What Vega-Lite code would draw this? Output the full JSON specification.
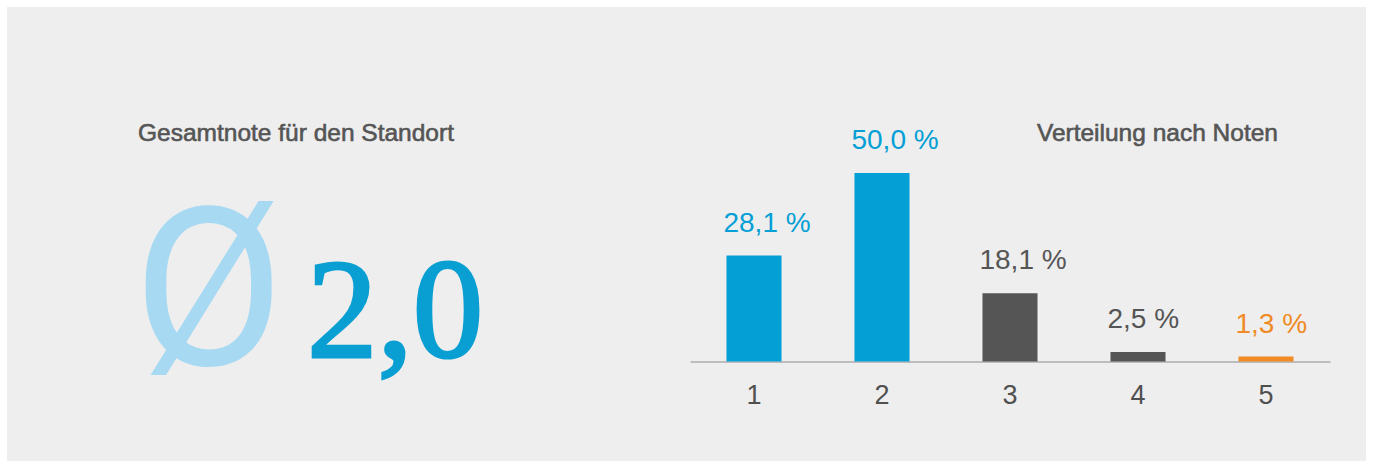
{
  "$schema": "https://vega.github.io/schema/vega-lite/v6.json",
  "width": 1373,
  "height": 468,
  "autosize": {"type": "fit", "contains": "padding"},
  "padding": 0,
  "background": "#ffffff",
  "view": {"fill": "#eeeeee", "stroke": "#ffffff", "strokeWidth": 14},
  "datasets": {
    "noten": [
      {"Note": "1", "Anteil": 28.1, "Label": "28,1 %"},
      {"Note": "2", "Anteil": 50.0, "Label": "50,0 %"},
      {"Note": "3", "Anteil": 18.1, "Label": "18,1 %"},
      {"Note": "4", "Anteil": 2.5, "Label": "2,5 %"},
      {"Note": "5", "Anteil": 1.3, "Label": "1,3 %"}
    ],
    "gesamt": [
      {"Titel": "Gesamtnote für den Standort", "Symbol": "Ø", "Wert": "2,0", "Verteilung": "Verteilung nach Noten"}
    ]
  },
  "layer": [
    {
      "data": {"name": "noten"},
      "mark": {"type": "bar"},
      "encoding": {
        "x": {
          "field": "Note", "type": "nominal", "sort": null,
          "scale": {"range": [690, 1330], "paddingInner": 0.57, "paddingOuter": 0.285},
          "axis": {
            "orient": "bottom", "offset": -106.5, "title": null, "labelAngle": 0,
            "domainColor": "#bdbdbd", "domainWidth": 2, "ticks": false,
            "labelFont": "Liberation Sans", "labelFontSize": 27, "labelColor": "#505050",
            "labelPadding": 21
          }
        },
        "y": {
          "field": "Anteil", "type": "quantitative",
          "scale": {"domain": [0, 50], "range": [361.5, 173], "nice": false},
          "axis": null
        },
        "color": {
          "field": "Note", "type": "nominal",
          "scale": {"domain": ["1", "2", "3", "4", "5"], "range": ["#049fd5", "#049fd5", "#555555", "#555555", "#f08a24"]},
          "legend": null
        }
      }
    },
    {
      "data": {"name": "noten"},
      "mark": {"type": "text", "align": "left", "baseline": "alphabetic", "dx": -3, "dy": -24, "font": "Liberation Sans", "fontSize": 28},
      "encoding": {
        "x": {"field": "Note", "type": "nominal", "bandPosition": 0},
        "y": {"field": "Anteil", "type": "quantitative"},
        "text": {"field": "Label"},
        "color": {"field": "Note", "type": "nominal", "legend": null}
      }
    },
    {
      "data": {"name": "gesamt"},
      "mark": {"type": "text", "align": "left", "baseline": "alphabetic", "font": "Liberation Sans", "fontSize": 24.5, "fill": "#555555", "stroke": "#555555", "strokeWidth": 0.6, "x": 138, "y": 141},
      "encoding": {"text": {"field": "Titel"}}
    },
    {
      "data": {"name": "gesamt"},
      "mark": {"type": "text", "align": "right", "baseline": "alphabetic", "font": "Liberation Sans", "fontSize": 24.5, "fill": "#555555", "stroke": "#555555", "strokeWidth": 0.6, "x": 1278, "y": 141},
      "encoding": {"text": {"field": "Verteilung"}}
    },
    {
      "data": {"name": "gesamt"},
      "mark": {"type": "text", "align": "left", "baseline": "alphabetic", "font": "Roboto", "fontSize": 220, "color": "#a7d9f2", "x": 133, "y": 365},
      "encoding": {"text": {"field": "Symbol"}}
    },
    {
      "data": {"name": "gesamt"},
      "mark": {"type": "text", "align": "left", "baseline": "alphabetic", "font": "Liberation Serif", "fontSize": 141, "fill": "#0a9fd3", "stroke": "#0a9fd3", "strokeWidth": 3, "x": 307, "y": 357},
      "encoding": {"text": {"field": "Wert"}}
    }
  ]
}
